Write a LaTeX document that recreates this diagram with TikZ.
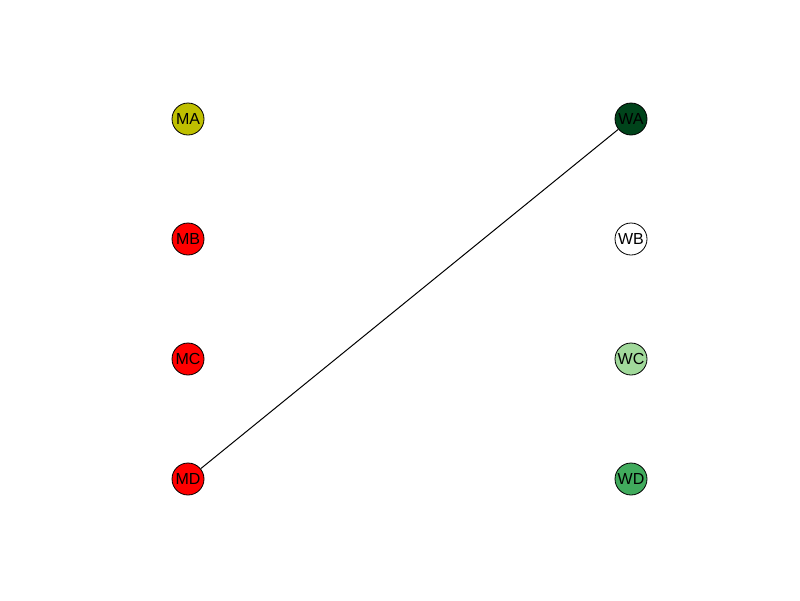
\documentclass[tikz,border=0pt]{standalone}
\usepackage{fontspec}
\setmainfont{Liberation Sans}
\definecolor{cMA}{HTML}{BFBF00}
\definecolor{cRed}{HTML}{FF0000}
\definecolor{cWA}{HTML}{00441B}
\definecolor{cWB}{HTML}{FFFFFF}
\definecolor{cWC}{HTML}{A1D99B}
\definecolor{cWD}{HTML}{41AB5D}
\begin{document}
\begin{tikzpicture}[x=1pt,y=-1pt,
  vert/.style={circle,draw=black,line width=0.8pt,minimum size=32pt,inner sep=0pt,font=\fontsize{16}{16}\selectfont},
  edge/.style={draw=black,line width=1pt}]
\useasboundingbox (0,0) rectangle (800,600);
\node[vert,fill=cMA] (MA) at (188,119) {MA};
\node[vert,fill=cRed] (MB) at (188,239) {MB};
\node[vert,fill=cRed] (MC) at (188,359) {MC};
\node[vert,fill=cRed] (MD) at (188,479) {MD};
\node[vert,fill=cWA] (WA) at (631,119) {WA};
\node[vert,fill=cWB] (WB) at (631,239) {WB};
\node[vert,fill=cWC] (WC) at (631,359) {WC};
\node[vert,fill=cWD] (WD) at (631,479) {WD};
\draw[edge] (MD) -- (WA);
\end{tikzpicture}
\end{document}
